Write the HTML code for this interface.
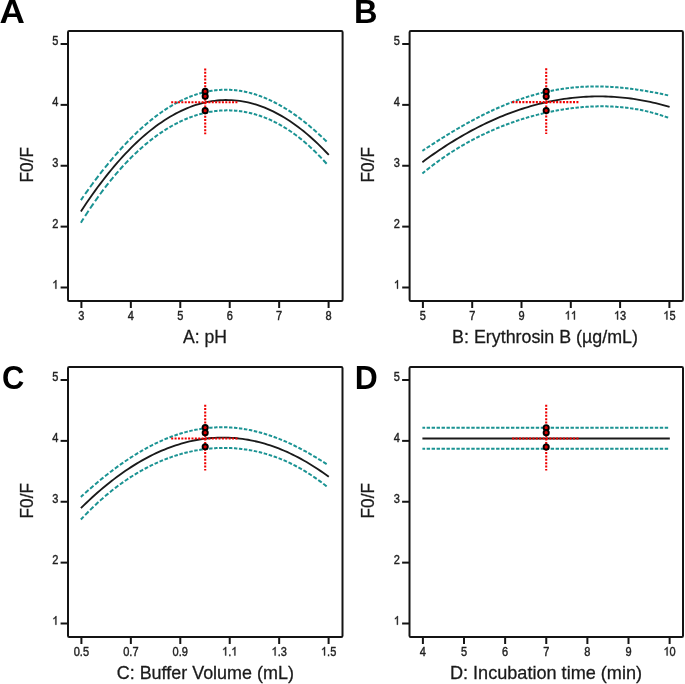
<!DOCTYPE html>
<html><head><meta charset="utf-8"><style>
html,body{margin:0;padding:0;background:#fff;}
svg{display:block;will-change:transform;}
text{font-family:"Liberation Sans",sans-serif;}
.tk{font-size:12px;fill:#222;stroke:#222;stroke-width:0.4px;}
.tk1{fill:#222;stroke:#222;stroke-width:68px;}
.ti{font-size:17.6px;fill:#1a1a1a;stroke:#1a1a1a;stroke-width:0.28px;}
.lt{font-size:32.5px;font-weight:bold;fill:#000;}
</style></head><body>
<svg width="685" height="684" viewBox="0 0 685 684">
<path d="M80.90,200.13 L81.80,198.82 L82.70,197.53 L83.60,196.23M85.16,194.01 L86.29,192.41 L87.43,190.82 L88.56,189.24M90.12,187.08 L91.25,185.53 L92.39,183.99 L93.52,182.46M95.08,180.37 L96.21,178.86 L97.35,177.37 L98.48,175.88M100.04,173.86 L101.17,172.40 L102.31,170.96 L103.44,169.52M105.00,167.57 L106.13,166.16 L107.27,164.76 L108.40,163.38M109.96,161.49 L111.09,160.13 L112.23,158.79 L113.36,157.45M114.92,155.63 L116.05,154.33 L117.19,153.03 L118.32,151.75M119.88,150.00 L121.01,148.75 L122.15,147.51 L123.28,146.28M124.84,144.60 L125.97,143.40 L127.11,142.21 L128.24,141.04M129.80,139.44 L130.93,138.29 L132.07,137.16 L133.20,136.03M134.76,134.51 L135.89,133.42 L137.03,132.34 L138.16,131.27M139.72,129.82 L140.85,128.79 L141.99,127.76 L143.12,126.75M144.68,125.38 L145.81,124.40 L146.95,123.44 L148.08,122.48M149.64,121.19 L150.77,120.27 L151.91,119.36 L153.04,118.46M154.60,117.25 L155.73,116.39 L156.87,115.54 L158.00,114.70M159.56,113.57 L160.69,112.76 L161.83,111.97 L162.96,111.19M164.52,110.15 L165.65,109.40 L166.79,108.67 L167.92,107.95M169.48,106.98 L170.61,106.30 L171.75,105.62 L172.88,104.97M174.44,104.08 L175.57,103.46 L176.71,102.84 L177.84,102.25M179.40,101.45 L180.53,100.88 L181.67,100.33 L182.80,99.79M184.36,99.07 L185.49,98.57 L186.63,98.08 L187.76,97.60M189.32,96.97 L190.45,96.53 L191.59,96.10 L192.72,95.68M194.28,95.13 L195.41,94.75 L196.55,94.38 L197.68,94.03M199.24,93.57 L200.37,93.25 L201.51,92.94 L202.64,92.65M204.20,92.27 L205.33,92.01 L206.47,91.76 L207.60,91.53M209.16,91.24 L210.29,91.04 L211.43,90.85 L212.56,90.68M214.12,90.47 L215.25,90.34 L216.39,90.21 L217.52,90.11M219.08,89.98 L220.21,89.90 L221.35,89.84 L222.48,89.80M224.04,89.75 L225.17,89.74 L226.31,89.74 L227.44,89.75M229.00,89.80 L230.13,89.84 L231.27,89.90 L232.40,89.98M233.96,90.10 L235.09,90.21 L236.23,90.33 L237.36,90.47M238.92,90.67 L240.05,90.84 L241.19,91.02 L242.32,91.22M243.88,91.51 L245.01,91.74 L246.15,91.98 L247.28,92.23M248.84,92.61 L249.97,92.89 L251.11,93.19 L252.24,93.51M253.80,93.96 L254.93,94.31 L256.07,94.67 L257.20,95.04M258.76,95.57 L259.89,95.98 L261.03,96.40 L262.16,96.83M263.72,97.44 L264.85,97.90 L265.99,98.38 L267.12,98.87M268.68,99.56 L269.81,100.08 L270.95,100.61 L272.08,101.15M273.64,101.92 L274.77,102.50 L275.91,103.08 L277.04,103.68M278.60,104.53 L279.73,105.16 L280.87,105.80 L282.00,106.46M283.56,107.38 L284.69,108.06 L285.83,108.76 L286.96,109.46M288.52,110.46 L289.65,111.20 L290.79,111.94 L291.92,112.70M293.48,113.77 L294.61,114.56 L295.75,115.36 L296.88,116.17M298.44,117.31 L299.57,118.15 L300.71,119.00 L301.84,119.87M303.40,121.07 L304.53,121.96 L305.67,122.86 L306.80,123.78M308.36,125.05 L309.49,125.99 L310.63,126.94 L311.76,127.90M313.32,129.25 L314.45,130.24 L315.59,131.23 L316.72,132.25M318.28,133.65 L319.41,134.69 L320.55,135.74 L321.68,136.80M323.24,138.27 L324.37,139.35 L325.51,140.45 L326.64,141.56" stroke="#1b9393" stroke-width="2" fill="none"/>
<path d="M80.90,222.71 L81.80,221.27 L82.70,219.84 L83.60,218.42M85.16,215.98 L86.29,214.23 L87.43,212.50 L88.56,210.78M90.12,208.44 L91.25,206.76 L92.39,205.10 L93.52,203.45M95.08,201.21 L96.21,199.60 L97.35,198.00 L98.48,196.42M100.04,194.28 L101.17,192.74 L102.31,191.21 L103.44,189.70M105.00,187.65 L106.13,186.18 L107.27,184.72 L108.40,183.28M109.96,181.32 L111.09,179.92 L112.23,178.53 L113.36,177.16M114.92,175.29 L116.05,173.96 L117.19,172.63 L118.32,171.33M119.88,169.55 L121.01,168.28 L122.15,167.03 L123.28,165.79M124.84,164.10 L125.97,162.90 L127.11,161.70 L128.24,160.53M129.80,158.93 L130.93,157.79 L132.07,156.66 L133.20,155.55M134.76,154.04 L135.89,152.96 L137.03,151.90 L138.16,150.85M139.72,149.43 L140.85,148.41 L141.99,147.41 L143.12,146.42M144.68,145.08 L145.81,144.13 L146.95,143.18 L148.08,142.26M149.64,141.00 L150.77,140.11 L151.91,139.23 L153.04,138.36M154.60,137.19 L155.73,136.35 L156.87,135.53 L158.00,134.73M159.56,133.64 L160.69,132.86 L161.83,132.10 L162.96,131.35M164.52,130.34 L165.65,129.62 L166.79,128.92 L167.92,128.23M169.48,127.30 L170.61,126.64 L171.75,126.00 L172.88,125.37M174.44,124.52 L175.57,123.92 L176.71,123.33 L177.84,122.75M179.40,121.98 L180.53,121.44 L181.67,120.91 L182.80,120.39M184.36,119.70 L185.49,119.22 L186.63,118.74 L187.76,118.28M189.32,117.67 L190.45,117.24 L191.59,116.83 L192.72,116.42M194.28,115.89 L195.41,115.52 L196.55,115.16 L197.68,114.81M199.24,114.36 L200.37,114.04 L201.51,113.74 L202.64,113.45M204.20,113.07 L205.33,112.81 L206.47,112.57 L207.60,112.33M209.16,112.03 L210.29,111.83 L211.43,111.64 L212.56,111.46M214.12,111.24 L215.25,111.10 L216.39,110.96 L217.52,110.84M219.08,110.70 L220.21,110.61 L221.35,110.54 L222.48,110.47M224.04,110.41 L225.17,110.38 L226.31,110.36 L227.44,110.35M229.00,110.37 L230.13,110.39 L231.27,110.43 L232.40,110.48M233.96,110.57 L235.09,110.66 L236.23,110.75 L237.36,110.86M238.92,111.03 L240.05,111.17 L241.19,111.33 L242.32,111.49M243.88,111.75 L245.01,111.94 L246.15,112.16 L247.28,112.38M248.84,112.71 L249.97,112.97 L251.11,113.24 L252.24,113.53M253.80,113.94 L254.93,114.26 L256.07,114.59 L257.20,114.93M258.76,115.43 L259.89,115.80 L261.03,116.19 L262.16,116.60M263.72,117.18 L264.85,117.61 L265.99,118.06 L267.12,118.53M268.68,119.19 L269.81,119.69 L270.95,120.20 L272.08,120.73M273.64,121.47 L274.77,122.04 L275.91,122.61 L277.04,123.20M278.60,124.03 L279.73,124.66 L280.87,125.29 L282.00,125.95M283.56,126.87 L284.69,127.55 L285.83,128.26 L286.96,128.97M288.52,129.98 L289.65,130.74 L290.79,131.50 L291.92,132.29M293.48,133.39 L294.61,134.21 L295.75,135.04 L296.88,135.89M298.44,137.08 L299.57,137.96 L300.71,138.87 L301.84,139.78M303.40,141.07 L304.53,142.02 L305.67,142.99 L306.80,143.97M308.36,145.35 L309.49,146.37 L310.63,147.41 L311.76,148.46M313.32,149.94 L314.45,151.03 L315.59,152.14 L316.72,153.26M318.28,154.83 L319.41,155.99 L320.55,157.17 L321.68,158.36M323.24,160.03 L324.37,161.26 L325.51,162.51 L326.64,163.77" stroke="#1b9393" stroke-width="2" fill="none"/>
<path d="M80.90,211.42 L83.69,207.20 L86.47,203.06 L89.26,199.00 L92.04,195.03 L94.83,191.14 L97.61,187.32 L100.40,183.59 L103.18,179.94 L105.97,176.38 L108.75,172.89 L111.54,169.49 L114.32,166.16 L117.11,162.92 L119.90,159.76 L122.68,156.68 L125.47,153.69 L128.25,150.77 L131.04,147.94 L133.82,145.18 L136.61,142.51 L139.39,139.92 L142.18,137.41 L144.96,134.99 L147.75,132.64 L150.53,130.38 L153.32,128.20 L156.11,126.10 L158.89,124.08 L161.68,122.14 L164.46,120.28 L167.25,118.51 L170.03,116.81 L172.82,115.20 L175.60,113.67 L178.39,112.22 L181.17,110.85 L183.96,109.57 L186.74,108.36 L189.53,107.24 L192.32,106.20 L195.10,105.24 L197.89,104.36 L200.67,103.56 L203.46,102.85 L206.24,102.21 L209.03,101.66 L211.81,101.19 L214.60,100.80 L217.38,100.49 L220.17,100.26 L222.96,100.12 L225.74,100.05 L228.53,100.07 L231.31,100.17 L234.10,100.35 L236.88,100.61 L239.67,100.95 L242.45,101.38 L245.24,101.88 L248.02,102.47 L250.81,103.14 L253.59,103.89 L256.38,104.72 L259.17,105.64 L261.95,106.63 L264.74,107.71 L267.52,108.87 L270.31,110.11 L273.09,111.43 L275.88,112.83 L278.66,114.32 L281.45,115.88 L284.23,117.53 L287.02,119.26 L289.80,121.07 L292.59,122.96 L295.38,124.93 L298.16,126.98 L300.95,129.12 L303.73,131.34 L306.52,133.64 L309.30,136.02 L312.09,138.48 L314.87,141.02 L317.66,143.65 L320.44,146.35 L323.23,149.14 L326.01,152.01 L328.80,154.96" stroke="#1a1a1a" stroke-width="1.85" fill="none"/>
<path d="M171.2,102.2 H238.0 M205.2,68.4 V134.2" stroke="#f00000" stroke-width="2.1" stroke-dasharray="2 1.38" fill="none"/>
<circle cx="205.2" cy="91.4" r="2.6" fill="#d80000" stroke="#000" stroke-width="1.9"/>
<circle cx="205.2" cy="96.3" r="2.6" fill="#d80000" stroke="#000" stroke-width="1.9"/>
<circle cx="205.2" cy="110.65" r="2.6" fill="#d80000" stroke="#000" stroke-width="1.9"/>
<rect x="68" y="31" width="274.6" height="270.0" rx="1.2" fill="none" stroke="#141414" stroke-width="2"/>
<line x1="60.6" y1="44.0" x2="68" y2="44.0" stroke="#141414" stroke-width="2"/>
<g transform="translate(58.40,45.20) scale(0.92,1)"><text x="-6.67" y="0" class="tk">5</text></g>
<line x1="60.6" y1="104.875" x2="68" y2="104.875" stroke="#141414" stroke-width="2"/>
<g transform="translate(58.40,106.08) scale(0.92,1)"><text x="-6.67" y="0" class="tk">4</text></g>
<line x1="60.6" y1="165.75" x2="68" y2="165.75" stroke="#141414" stroke-width="2"/>
<g transform="translate(58.40,166.95) scale(0.92,1)"><text x="-6.67" y="0" class="tk">3</text></g>
<line x1="60.6" y1="226.625" x2="68" y2="226.625" stroke="#141414" stroke-width="2"/>
<g transform="translate(58.40,227.82) scale(0.92,1)"><text x="-6.67" y="0" class="tk">2</text></g>
<line x1="60.6" y1="287.5" x2="68" y2="287.5" stroke="#141414" stroke-width="2"/>
<g transform="translate(58.40,288.70) scale(0.92,1)"><path transform="translate(-6.67,0) scale(0.005859,-0.005859)" d="M763 0H583V1147Q518 1085 412.5 1023T223 930V1104Q374 1175 487 1276T647 1472H763V0Z" class="tk1"/></g>
<line x1="81.4" y1="301.0" x2="81.4" y2="308.0" stroke="#141414" stroke-width="2"/>
<g transform="translate(81.40,319.50) scale(0.92,1)"><text x="-3.34" y="0" class="tk">3</text></g>
<line x1="130.84" y1="301.0" x2="130.84" y2="308.0" stroke="#141414" stroke-width="2"/>
<g transform="translate(130.84,319.50) scale(0.92,1)"><text x="-3.34" y="0" class="tk">4</text></g>
<line x1="180.28" y1="301.0" x2="180.28" y2="308.0" stroke="#141414" stroke-width="2"/>
<g transform="translate(180.28,319.50) scale(0.92,1)"><text x="-3.34" y="0" class="tk">5</text></g>
<line x1="229.72" y1="301.0" x2="229.72" y2="308.0" stroke="#141414" stroke-width="2"/>
<g transform="translate(229.72,319.50) scale(0.92,1)"><text x="-3.34" y="0" class="tk">6</text></g>
<line x1="279.15999999999997" y1="301.0" x2="279.15999999999997" y2="308.0" stroke="#141414" stroke-width="2"/>
<g transform="translate(279.16,319.50) scale(0.92,1)"><text x="-3.34" y="0" class="tk">7</text></g>
<line x1="328.6" y1="301.0" x2="328.6" y2="308.0" stroke="#141414" stroke-width="2"/>
<g transform="translate(328.60,319.50) scale(0.92,1)"><text x="-3.34" y="0" class="tk">8</text></g>
<text x="205" y="343.0" text-anchor="middle" class="ti" style="font-size:17.6px">A: pH</text>
<text transform="translate(32.7,164.7) rotate(-90) scale(0.94,1)" text-anchor="middle" class="ti" style="font-size:18.3px">F0/F</text>
<text transform="translate(-0.6,22.8) scale(1.08,1)" class="lt">A</text>
<path d="M422.40,150.86 L423.30,150.26 L424.20,149.66 L425.10,149.06M426.66,148.03 L427.79,147.28 L428.93,146.54 L430.06,145.80M431.62,144.78 L432.75,144.05 L433.89,143.32 L435.02,142.59M436.58,141.59 L437.71,140.87 L438.85,140.15 L439.98,139.44M441.54,138.46 L442.67,137.75 L443.81,137.04 L444.94,136.34M446.50,135.38 L447.63,134.68 L448.77,133.99 L449.90,133.31M451.46,132.36 L452.59,131.68 L453.73,131.01 L454.86,130.34M456.42,129.42 L457.55,128.75 L458.69,128.09 L459.82,127.44M461.38,126.54 L462.51,125.89 L463.65,125.25 L464.78,124.61M466.34,123.74 L467.47,123.11 L468.61,122.48 L469.74,121.86M471.30,121.01 L472.43,120.40 L473.57,119.80 L474.70,119.20M476.26,118.37 L477.39,117.78 L478.53,117.20 L479.66,116.62M481.22,115.82 L482.35,115.25 L483.49,114.69 L484.62,114.13M486.18,113.36 L487.31,112.81 L488.45,112.27 L489.58,111.73M491.14,111.00 L492.27,110.47 L493.41,109.95 L494.54,109.43M496.10,108.73 L497.23,108.23 L498.37,107.73 L499.50,107.24M501.06,106.57 L502.19,106.09 L503.33,105.61 L504.46,105.14M506.02,104.50 L507.15,104.05 L508.29,103.60 L509.42,103.15M510.98,102.55 L512.11,102.12 L513.25,101.69 L514.38,101.27M515.94,100.70 L517.07,100.30 L518.21,99.90 L519.34,99.50M520.90,98.97 L522.03,98.58 L523.17,98.21 L524.30,97.84M525.86,97.34 L526.99,96.98 L528.13,96.64 L529.26,96.29M530.82,95.83 L531.95,95.50 L533.09,95.17 L534.22,94.86M535.78,94.43 L536.91,94.12 L538.05,93.83 L539.18,93.53M540.74,93.14 L541.87,92.86 L543.01,92.59 L544.14,92.33M545.70,91.97 L546.83,91.72 L547.97,91.47 L549.10,91.23M550.66,90.91 L551.79,90.69 L552.93,90.47 L554.06,90.25M555.62,89.97 L556.75,89.77 L557.89,89.58 L559.02,89.39M560.58,89.14 L561.71,88.97 L562.85,88.80 L563.98,88.64M565.54,88.42 L566.67,88.28 L567.81,88.13 L568.94,88.00M570.50,87.82 L571.63,87.70 L572.77,87.58 L573.90,87.47M575.46,87.33 L576.59,87.23 L577.73,87.14 L578.86,87.05M580.42,86.95 L581.55,86.87 L582.69,86.81 L583.82,86.75M585.38,86.67 L586.51,86.63 L587.65,86.58 L588.78,86.55M590.34,86.51 L591.47,86.48 L592.61,86.47 L593.74,86.45M595.30,86.44 L596.43,86.44 L597.57,86.45 L598.70,86.46M600.26,86.48 L601.39,86.51 L602.53,86.54 L603.66,86.57M605.22,86.62 L606.35,86.67 L607.49,86.72 L608.62,86.77M610.18,86.86 L611.31,86.92 L612.45,87.00 L613.58,87.07M615.14,87.18 L616.27,87.27 L617.41,87.36 L618.54,87.46M620.10,87.60 L621.23,87.71 L622.37,87.82 L623.50,87.93M625.06,88.10 L626.19,88.22 L627.33,88.35 L628.46,88.49M630.02,88.68 L631.15,88.82 L632.29,88.97 L633.42,89.12M634.98,89.33 L636.11,89.49 L637.25,89.66 L638.38,89.82M639.94,90.06 L641.07,90.24 L642.21,90.42 L643.34,90.60M644.90,90.85 L646.03,91.04 L647.17,91.24 L648.30,91.43M649.86,91.71 L650.99,91.92 L652.13,92.12 L653.26,92.33M654.82,92.63 L655.95,92.85 L657.09,93.07 L658.22,93.29M659.78,93.60 L660.91,93.83 L662.05,94.06 L663.18,94.30M664.74,94.63 L665.87,94.87 L667.01,95.12 L668.14,95.36" stroke="#1b9393" stroke-width="2" fill="none"/>
<path d="M422.40,173.44 L423.30,172.70 L424.20,171.97 L425.10,171.24M426.66,170.00 L427.79,169.10 L428.93,168.21 L430.06,167.33M431.62,166.14 L432.75,165.27 L433.89,164.42 L435.02,163.58M436.58,162.43 L437.71,161.60 L438.85,160.78 L439.98,159.97M441.54,158.87 L442.67,158.08 L443.81,157.29 L444.94,156.52M446.50,155.46 L447.63,154.70 L448.77,153.95 L449.90,153.21M451.46,152.20 L452.59,151.47 L453.73,150.75 L454.86,150.04M456.42,149.07 L457.55,148.38 L458.69,147.69 L459.82,147.01M461.38,146.09 L462.51,145.42 L463.65,144.77 L464.78,144.12M466.34,143.23 L467.47,142.60 L468.61,141.97 L469.74,141.35M471.30,140.51 L472.43,139.90 L473.57,139.31 L474.70,138.71M476.26,137.91 L477.39,137.33 L478.53,136.76 L479.66,136.20M481.22,135.43 L482.35,134.88 L483.49,134.34 L484.62,133.80M486.18,133.07 L487.31,132.54 L488.45,132.02 L489.58,131.51M491.14,130.81 L492.27,130.32 L493.41,129.82 L494.54,129.34M496.10,128.67 L497.23,128.20 L498.37,127.73 L499.50,127.27M501.06,126.64 L502.19,126.19 L503.33,125.74 L504.46,125.30M506.02,124.71 L507.15,124.28 L508.29,123.86 L509.42,123.44M510.98,122.88 L512.11,122.47 L513.25,122.07 L514.38,121.68M515.94,121.14 L517.07,120.76 L518.21,120.39 L519.34,120.01M520.90,119.51 L522.03,119.15 L523.17,118.80 L524.30,118.45M525.86,117.97 L526.99,117.64 L528.13,117.30 L529.26,116.98M530.82,116.53 L531.95,116.22 L533.09,115.91 L534.22,115.60M535.78,115.19 L536.91,114.89 L538.05,114.60 L539.18,114.32M540.74,113.93 L541.87,113.66 L543.01,113.39 L544.14,113.13M545.70,112.77 L546.83,112.52 L547.97,112.27 L549.10,112.03M550.66,111.71 L551.79,111.48 L552.93,111.25 L554.06,111.03M555.62,110.73 L556.75,110.53 L557.89,110.32 L559.02,110.12M560.58,109.86 L561.71,109.67 L562.85,109.49 L563.98,109.31M565.54,109.07 L566.67,108.91 L567.81,108.74 L568.94,108.59M570.50,108.38 L571.63,108.24 L572.77,108.10 L573.90,107.97M575.46,107.79 L576.59,107.67 L577.73,107.55 L578.86,107.44M580.42,107.29 L581.55,107.19 L582.69,107.10 L583.82,107.01M585.38,106.90 L586.51,106.82 L587.65,106.75 L588.78,106.68M590.34,106.60 L591.47,106.55 L592.61,106.50 L593.74,106.46M595.30,106.41 L596.43,106.38 L597.57,106.36 L598.70,106.34M600.26,106.32 L601.39,106.32 L602.53,106.32 L603.66,106.33M605.22,106.35 L606.35,106.37 L607.49,106.39 L608.62,106.43M610.18,106.48 L611.31,106.53 L612.45,106.58 L613.58,106.64M615.14,106.73 L616.27,106.80 L617.41,106.88 L618.54,106.97M620.10,107.10 L621.23,107.20 L622.37,107.31 L623.50,107.42M625.06,107.59 L626.19,107.72 L627.33,107.86 L628.46,108.00M630.02,108.21 L631.15,108.37 L632.29,108.54 L633.42,108.71M634.98,108.97 L636.11,109.16 L637.25,109.35 L638.38,109.56M639.94,109.85 L641.07,110.08 L642.21,110.31 L643.34,110.54M644.90,110.88 L646.03,111.14 L647.17,111.40 L648.30,111.67M649.86,112.06 L650.99,112.35 L652.13,112.64 L653.26,112.95M654.82,113.38 L655.95,113.70 L657.09,114.03 L658.22,114.37M659.78,114.85 L660.91,115.21 L662.05,115.58 L663.18,115.95M664.74,116.48 L665.87,116.87 L667.01,117.27 L668.14,117.68" stroke="#1b9393" stroke-width="2" fill="none"/>
<path d="M422.40,162.15 L425.18,160.10 L427.96,158.08 L430.73,156.09 L433.51,154.13 L436.29,152.21 L439.07,150.32 L441.84,148.46 L444.62,146.64 L447.40,144.84 L450.18,143.08 L452.95,141.36 L455.73,139.66 L458.51,138.00 L461.29,136.37 L464.06,134.77 L466.84,133.21 L469.62,131.67 L472.40,130.17 L475.17,128.71 L477.95,127.27 L480.73,125.87 L483.51,124.50 L486.28,123.17 L489.06,121.86 L491.84,120.59 L494.62,119.35 L497.39,118.14 L500.17,116.97 L502.95,115.83 L505.73,114.72 L508.50,113.64 L511.28,112.60 L514.06,111.59 L516.84,110.61 L519.61,109.67 L522.39,108.75 L525.17,107.87 L527.95,107.02 L530.72,106.21 L533.50,105.42 L536.28,104.67 L539.06,103.96 L541.83,103.27 L544.61,102.62 L547.39,102.00 L550.17,101.41 L552.94,100.86 L555.72,100.33 L558.50,99.84 L561.28,99.39 L564.05,98.96 L566.83,98.57 L569.61,98.21 L572.39,97.88 L575.16,97.59 L577.94,97.33 L580.72,97.10 L583.50,96.90 L586.27,96.74 L589.05,96.60 L591.83,96.51 L594.61,96.44 L597.38,96.40 L600.16,96.40 L602.94,96.43 L605.72,96.50 L608.49,96.59 L611.27,96.72 L614.05,96.89 L616.83,97.08 L619.60,97.31 L622.38,97.57 L625.16,97.86 L627.94,98.18 L630.71,98.54 L633.49,98.93 L636.27,99.35 L639.05,99.80 L641.82,100.29 L644.60,100.81 L647.38,101.36 L650.16,101.95 L652.93,102.57 L655.71,103.22 L658.49,103.90 L661.27,104.61 L664.04,105.36 L666.82,106.14 L669.60,106.95" stroke="#1a1a1a" stroke-width="1.85" fill="none"/>
<path d="M512.2,102.1 H579.0 M546.2,68.3 V134.1" stroke="#f00000" stroke-width="2.1" stroke-dasharray="2 1.38" fill="none"/>
<circle cx="546.2" cy="91.4" r="2.6" fill="#d80000" stroke="#000" stroke-width="1.9"/>
<circle cx="546.2" cy="96.5" r="2.6" fill="#d80000" stroke="#000" stroke-width="1.9"/>
<circle cx="546.2" cy="110.6" r="2.6" fill="#d80000" stroke="#000" stroke-width="1.9"/>
<rect x="409.6" y="31" width="273.29999999999995" height="270.0" rx="1.2" fill="none" stroke="#141414" stroke-width="2"/>
<line x1="402.20000000000005" y1="44.0" x2="409.6" y2="44.0" stroke="#141414" stroke-width="2"/>
<g transform="translate(400.00,45.20) scale(0.92,1)"><text x="-6.67" y="0" class="tk">5</text></g>
<line x1="402.20000000000005" y1="104.875" x2="409.6" y2="104.875" stroke="#141414" stroke-width="2"/>
<g transform="translate(400.00,106.08) scale(0.92,1)"><text x="-6.67" y="0" class="tk">4</text></g>
<line x1="402.20000000000005" y1="165.75" x2="409.6" y2="165.75" stroke="#141414" stroke-width="2"/>
<g transform="translate(400.00,166.95) scale(0.92,1)"><text x="-6.67" y="0" class="tk">3</text></g>
<line x1="402.20000000000005" y1="226.625" x2="409.6" y2="226.625" stroke="#141414" stroke-width="2"/>
<g transform="translate(400.00,227.82) scale(0.92,1)"><text x="-6.67" y="0" class="tk">2</text></g>
<line x1="402.20000000000005" y1="287.5" x2="409.6" y2="287.5" stroke="#141414" stroke-width="2"/>
<g transform="translate(400.00,288.70) scale(0.92,1)"><path transform="translate(-6.67,0) scale(0.005859,-0.005859)" d="M763 0H583V1147Q518 1085 412.5 1023T223 930V1104Q374 1175 487 1276T647 1472H763V0Z" class="tk1"/></g>
<line x1="422.9" y1="301.0" x2="422.9" y2="308.0" stroke="#141414" stroke-width="2"/>
<g transform="translate(422.90,319.50) scale(0.92,1)"><text x="-3.34" y="0" class="tk">5</text></g>
<line x1="472.2" y1="301.0" x2="472.2" y2="308.0" stroke="#141414" stroke-width="2"/>
<g transform="translate(472.20,319.50) scale(0.92,1)"><text x="-3.34" y="0" class="tk">7</text></g>
<line x1="521.5" y1="301.0" x2="521.5" y2="308.0" stroke="#141414" stroke-width="2"/>
<g transform="translate(521.50,319.50) scale(0.92,1)"><text x="-3.34" y="0" class="tk">9</text></g>
<line x1="570.8" y1="301.0" x2="570.8" y2="308.0" stroke="#141414" stroke-width="2"/>
<g transform="translate(570.80,319.50) scale(0.92,1)"><path transform="translate(-6.67,0) scale(0.005859,-0.005859)" d="M763 0H583V1147Q518 1085 412.5 1023T223 930V1104Q374 1175 487 1276T647 1472H763V0Z" class="tk1"/><path transform="translate(0.00,0) scale(0.005859,-0.005859)" d="M763 0H583V1147Q518 1085 412.5 1023T223 930V1104Q374 1175 487 1276T647 1472H763V0Z" class="tk1"/></g>
<line x1="620.0999999999999" y1="301.0" x2="620.0999999999999" y2="308.0" stroke="#141414" stroke-width="2"/>
<g transform="translate(620.10,319.50) scale(0.92,1)"><path transform="translate(-6.67,0) scale(0.005859,-0.005859)" d="M763 0H583V1147Q518 1085 412.5 1023T223 930V1104Q374 1175 487 1276T647 1472H763V0Z" class="tk1"/><text x="0.00" y="0" class="tk">3</text></g>
<line x1="669.4" y1="301.0" x2="669.4" y2="308.0" stroke="#141414" stroke-width="2"/>
<g transform="translate(669.40,319.50) scale(0.92,1)"><path transform="translate(-6.67,0) scale(0.005859,-0.005859)" d="M763 0H583V1147Q518 1085 412.5 1023T223 930V1104Q374 1175 487 1276T647 1472H763V0Z" class="tk1"/><text x="0.00" y="0" class="tk">5</text></g>
<text x="545" y="343.0" text-anchor="middle" class="ti" style="font-size:17.85px">B: Erythrosin B (µg/mL)</text>
<text transform="translate(374.3,164.7) rotate(-90) scale(0.94,1)" text-anchor="middle" class="ti" style="font-size:18.3px">F0/F</text>
<text transform="translate(353.9,22.8) scale(1.0,1)" class="lt">B</text>
<path d="M80.90,496.90 L81.80,496.08 L82.70,495.26 L83.60,494.44M85.16,493.03 L86.29,492.02 L87.43,491.01 L88.56,490.01M90.12,488.64 L91.25,487.66 L92.39,486.68 L93.52,485.70M95.08,484.37 L96.21,483.42 L97.35,482.46 L98.48,481.52M100.04,480.23 L101.17,479.30 L102.31,478.38 L103.44,477.46M105.00,476.21 L106.13,475.31 L107.27,474.42 L108.40,473.54M109.96,472.33 L111.09,471.46 L112.23,470.60 L113.36,469.74M114.92,468.58 L116.05,467.74 L117.19,466.91 L118.32,466.09M119.88,464.97 L121.01,464.16 L122.15,463.37 L123.28,462.58M124.84,461.50 L125.97,460.73 L127.11,459.97 L128.24,459.21M129.80,458.18 L130.93,457.45 L132.07,456.72 L133.20,455.99M134.76,455.02 L135.89,454.31 L137.03,453.62 L138.16,452.93M139.72,452.00 L140.85,451.34 L141.99,450.68 L143.12,450.03M144.68,449.15 L145.81,448.52 L146.95,447.90 L148.08,447.29M149.64,446.46 L150.77,445.87 L151.91,445.29 L153.04,444.72M154.60,443.94 L155.73,443.39 L156.87,442.85 L158.00,442.31M159.56,441.59 L160.69,441.08 L161.83,440.57 L162.96,440.08M164.52,439.41 L165.65,438.94 L166.79,438.48 L167.92,438.02M169.48,437.41 L170.61,436.98 L171.75,436.55 L172.88,436.14M174.44,435.58 L175.57,435.19 L176.71,434.80 L177.84,434.43M179.40,433.93 L180.53,433.58 L181.67,433.24 L182.80,432.90M184.36,432.46 L185.49,432.15 L186.63,431.85 L187.76,431.56M189.32,431.17 L190.45,430.90 L191.59,430.64 L192.72,430.39M194.28,430.06 L195.41,429.84 L196.55,429.62 L197.68,429.41M199.24,429.14 L200.37,428.95 L201.51,428.78 L202.64,428.61M204.20,428.40 L205.33,428.25 L206.47,428.12 L207.60,427.99M209.16,427.84 L210.29,427.73 L211.43,427.64 L212.56,427.56M214.12,427.46 L215.25,427.40 L216.39,427.35 L217.52,427.30M219.08,427.26 L220.21,427.24 L221.35,427.23 L222.48,427.23M224.04,427.25 L225.17,427.27 L226.31,427.30 L227.44,427.34M229.00,427.42 L230.13,427.48 L231.27,427.55 L232.40,427.64M233.96,427.76 L235.09,427.87 L236.23,427.98 L237.36,428.11M238.92,428.29 L240.05,428.44 L241.19,428.59 L242.32,428.75M243.88,428.99 L245.01,429.18 L246.15,429.37 L247.28,429.58M248.84,429.87 L249.97,430.10 L251.11,430.33 L252.24,430.58M253.80,430.92 L254.93,431.19 L256.07,431.46 L257.20,431.74M258.76,432.15 L259.89,432.45 L261.03,432.76 L262.16,433.08M263.72,433.54 L264.85,433.88 L265.99,434.23 L267.12,434.59M268.68,435.09 L269.81,435.47 L270.95,435.86 L272.08,436.25M273.64,436.81 L274.77,437.22 L275.91,437.64 L277.04,438.08M278.60,438.68 L279.73,439.13 L280.87,439.59 L282.00,440.05M283.56,440.71 L284.69,441.19 L285.83,441.68 L286.96,442.18M288.52,442.88 L289.65,443.40 L290.79,443.93 L291.92,444.46M293.48,445.20 L294.61,445.75 L295.75,446.31 L296.88,446.88M298.44,447.67 L299.57,448.25 L300.71,448.84 L301.84,449.43M303.40,450.26 L304.53,450.87 L305.67,451.49 L306.80,452.12M308.36,452.99 L309.49,453.63 L310.63,454.28 L311.76,454.94M313.32,455.85 L314.45,456.52 L315.59,457.20 L316.72,457.88M318.28,458.83 L319.41,459.53 L320.55,460.24 L321.68,460.95M323.24,461.94 L324.37,462.67 L325.51,463.40 L326.64,464.14" stroke="#1b9393" stroke-width="2" fill="none"/>
<path d="M80.90,519.48 L81.80,518.52 L82.70,517.57 L83.60,516.62M85.16,515.00 L86.29,513.84 L87.43,512.69 L88.56,511.55M90.12,510.00 L91.25,508.88 L92.39,507.78 L93.52,506.69M95.08,505.21 L96.21,504.15 L97.35,503.10 L98.48,502.06M100.04,500.65 L101.17,499.63 L102.31,498.63 L103.44,497.64M105.00,496.30 L106.13,495.34 L107.27,494.38 L108.40,493.44M109.96,492.16 L111.09,491.25 L112.23,490.34 L113.36,489.45M114.92,488.24 L116.05,487.37 L117.19,486.51 L118.32,485.67M119.88,484.52 L121.01,483.70 L122.15,482.89 L123.28,482.08M124.84,481.00 L125.97,480.22 L127.11,479.46 L128.24,478.70M129.80,477.68 L130.93,476.95 L132.07,476.22 L133.20,475.51M134.76,474.55 L135.89,473.86 L137.03,473.18 L138.16,472.51M139.72,471.61 L140.85,470.96 L141.99,470.33 L143.12,469.70M144.68,468.85 L145.81,468.25 L146.95,467.65 L148.08,467.07M149.64,466.28 L150.77,465.71 L151.91,465.16 L153.04,464.61M154.60,463.88 L155.73,463.36 L156.87,462.84 L158.00,462.34M159.56,461.66 L160.69,461.17 L161.83,460.70 L162.96,460.23M164.52,459.61 L165.65,459.16 L166.79,458.73 L167.92,458.30M169.48,457.73 L170.61,457.32 L171.75,456.92 L172.88,456.54M174.44,456.02 L175.57,455.65 L176.71,455.29 L177.84,454.94M179.40,454.47 L180.53,454.14 L181.67,453.82 L182.80,453.51M184.36,453.09 L185.49,452.80 L186.63,452.51 L187.76,452.24M189.32,451.87 L190.45,451.62 L191.59,451.37 L192.72,451.13M194.28,450.82 L195.41,450.60 L196.55,450.39 L197.68,450.19M199.24,449.93 L200.37,449.75 L201.51,449.57 L202.64,449.41M204.20,449.20 L205.33,449.06 L206.47,448.92 L207.60,448.79M209.16,448.63 L210.29,448.52 L211.43,448.43 L212.56,448.34M214.12,448.23 L215.25,448.16 L216.39,448.10 L217.52,448.04M219.08,447.98 L220.21,447.95 L221.35,447.93 L222.48,447.91M224.04,447.90 L225.17,447.91 L226.31,447.92 L227.44,447.94M229.00,447.99 L230.13,448.03 L231.27,448.08 L232.40,448.14M233.96,448.23 L235.09,448.31 L236.23,448.40 L237.36,448.50M238.92,448.65 L240.05,448.77 L241.19,448.89 L242.32,449.03M243.88,449.23 L245.01,449.39 L246.15,449.55 L247.28,449.73M248.84,449.98 L249.97,450.18 L251.11,450.38 L252.24,450.59M253.80,450.90 L254.93,451.14 L256.07,451.38 L257.20,451.63M258.76,452.00 L259.89,452.27 L261.03,452.56 L262.16,452.85M263.72,453.27 L264.85,453.59 L265.99,453.91 L267.12,454.25M268.68,454.72 L269.81,455.08 L270.95,455.45 L272.08,455.83M273.64,456.36 L274.77,456.76 L275.91,457.17 L277.04,457.59M278.60,458.18 L279.73,458.63 L280.87,459.08 L282.00,459.54M283.56,460.20 L284.69,460.69 L285.83,461.19 L286.96,461.69M288.52,462.41 L289.65,462.94 L290.79,463.49 L291.92,464.04M293.48,464.82 L294.61,465.40 L295.75,465.99 L296.88,466.59M298.44,467.43 L299.57,468.06 L300.71,468.70 L301.84,469.35M303.40,470.26 L304.53,470.93 L305.67,471.62 L306.80,472.32M308.36,473.29 L309.49,474.02 L310.63,474.75 L311.76,475.50M313.32,476.54 L314.45,477.32 L315.59,478.10 L316.72,478.90M318.28,480.01 L319.41,480.84 L320.55,481.67 L321.68,482.52M323.24,483.70 L324.37,484.58 L325.51,485.46 L326.64,486.36" stroke="#1b9393" stroke-width="2" fill="none"/>
<path d="M80.90,508.19 L83.69,505.45 L86.47,502.76 L89.26,500.13 L92.04,497.55 L94.83,495.02 L97.61,492.55 L100.40,490.13 L103.18,487.77 L105.97,485.46 L108.75,483.21 L111.54,481.01 L114.32,478.86 L117.11,476.77 L119.90,474.73 L122.68,472.75 L125.47,470.82 L128.25,468.95 L131.04,467.13 L133.82,465.36 L136.61,463.65 L139.39,462.00 L142.18,460.39 L144.96,458.85 L147.75,457.35 L150.53,455.91 L153.32,454.53 L156.11,453.20 L158.89,451.92 L161.68,450.70 L164.46,449.53 L167.25,448.42 L170.03,447.36 L172.82,446.36 L175.60,445.41 L178.39,444.51 L181.17,443.67 L183.96,442.88 L186.74,442.15 L189.53,441.47 L192.32,440.85 L195.10,440.28 L197.89,439.76 L200.67,439.30 L203.46,438.90 L206.24,438.54 L209.03,438.25 L211.81,438.00 L214.60,437.81 L217.38,437.68 L220.17,437.60 L222.96,437.57 L225.74,437.60 L228.53,437.68 L231.31,437.82 L234.10,438.01 L236.88,438.26 L239.67,438.56 L242.45,438.91 L245.24,439.32 L248.02,439.78 L250.81,440.30 L253.59,440.87 L256.38,441.49 L259.17,442.18 L261.95,442.91 L264.74,443.70 L267.52,444.54 L270.31,445.44 L273.09,446.39 L275.88,447.40 L278.66,448.46 L281.45,449.57 L284.23,450.74 L287.02,451.97 L289.80,453.24 L292.59,454.58 L295.38,455.96 L298.16,457.40 L300.95,458.90 L303.73,460.45 L306.52,462.05 L309.30,463.71 L312.09,465.42 L314.87,467.19 L317.66,469.01 L320.44,470.89 L323.23,472.82 L326.01,474.80 L328.80,476.84" stroke="#1a1a1a" stroke-width="1.85" fill="none"/>
<path d="M171.2,438.5 H238.0 M205.2,404.7 V470.5" stroke="#f00000" stroke-width="2.1" stroke-dasharray="2 1.38" fill="none"/>
<circle cx="205.2" cy="427.6" r="2.6" fill="#d80000" stroke="#000" stroke-width="1.9"/>
<circle cx="205.2" cy="432.7" r="2.6" fill="#d80000" stroke="#000" stroke-width="1.9"/>
<circle cx="205.2" cy="446.8" r="2.6" fill="#d80000" stroke="#000" stroke-width="1.9"/>
<rect x="68" y="367" width="274.5" height="270.0" rx="1.2" fill="none" stroke="#141414" stroke-width="2"/>
<line x1="60.6" y1="380.0" x2="68" y2="380.0" stroke="#141414" stroke-width="2"/>
<g transform="translate(58.40,381.20) scale(0.92,1)"><text x="-6.67" y="0" class="tk">5</text></g>
<line x1="60.6" y1="440.875" x2="68" y2="440.875" stroke="#141414" stroke-width="2"/>
<g transform="translate(58.40,442.07) scale(0.92,1)"><text x="-6.67" y="0" class="tk">4</text></g>
<line x1="60.6" y1="501.75" x2="68" y2="501.75" stroke="#141414" stroke-width="2"/>
<g transform="translate(58.40,502.95) scale(0.92,1)"><text x="-6.67" y="0" class="tk">3</text></g>
<line x1="60.6" y1="562.625" x2="68" y2="562.625" stroke="#141414" stroke-width="2"/>
<g transform="translate(58.40,563.83) scale(0.92,1)"><text x="-6.67" y="0" class="tk">2</text></g>
<line x1="60.6" y1="623.5" x2="68" y2="623.5" stroke="#141414" stroke-width="2"/>
<g transform="translate(58.40,624.70) scale(0.92,1)"><path transform="translate(-6.67,0) scale(0.005859,-0.005859)" d="M763 0H583V1147Q518 1085 412.5 1023T223 930V1104Q374 1175 487 1276T647 1472H763V0Z" class="tk1"/></g>
<line x1="81.4" y1="637.0" x2="81.4" y2="644.0" stroke="#141414" stroke-width="2"/>
<g transform="translate(81.40,655.50) scale(0.92,1)"><text x="-8.34" y="0" class="tk">0.5</text></g>
<line x1="130.84" y1="637.0" x2="130.84" y2="644.0" stroke="#141414" stroke-width="2"/>
<g transform="translate(130.84,655.50) scale(0.92,1)"><text x="-8.34" y="0" class="tk">0.7</text></g>
<line x1="180.28" y1="637.0" x2="180.28" y2="644.0" stroke="#141414" stroke-width="2"/>
<g transform="translate(180.28,655.50) scale(0.92,1)"><text x="-8.34" y="0" class="tk">0.9</text></g>
<line x1="229.72" y1="637.0" x2="229.72" y2="644.0" stroke="#141414" stroke-width="2"/>
<g transform="translate(229.72,655.50) scale(0.92,1)"><path transform="translate(-8.34,0) scale(0.005859,-0.005859)" d="M763 0H583V1147Q518 1085 412.5 1023T223 930V1104Q374 1175 487 1276T647 1472H763V0Z" class="tk1"/><text x="-1.67" y="0" class="tk">.</text><path transform="translate(1.67,0) scale(0.005859,-0.005859)" d="M763 0H583V1147Q518 1085 412.5 1023T223 930V1104Q374 1175 487 1276T647 1472H763V0Z" class="tk1"/></g>
<line x1="279.15999999999997" y1="637.0" x2="279.15999999999997" y2="644.0" stroke="#141414" stroke-width="2"/>
<g transform="translate(279.16,655.50) scale(0.92,1)"><path transform="translate(-8.34,0) scale(0.005859,-0.005859)" d="M763 0H583V1147Q518 1085 412.5 1023T223 930V1104Q374 1175 487 1276T647 1472H763V0Z" class="tk1"/><text x="-1.67" y="0" class="tk">.3</text></g>
<line x1="328.6" y1="637.0" x2="328.6" y2="644.0" stroke="#141414" stroke-width="2"/>
<g transform="translate(328.60,655.50) scale(0.92,1)"><path transform="translate(-8.34,0) scale(0.005859,-0.005859)" d="M763 0H583V1147Q518 1085 412.5 1023T223 930V1104Q374 1175 487 1276T647 1472H763V0Z" class="tk1"/><text x="-1.67" y="0" class="tk">.5</text></g>
<text x="205.3" y="679.0" text-anchor="middle" class="ti" style="font-size:17.95px">C: Buffer Volume (mL)</text>
<text transform="translate(32.7,500.7) rotate(-90) scale(0.94,1)" text-anchor="middle" class="ti" style="font-size:18.3px">F0/F</text>
<text transform="translate(2.1,388.9) scale(0.95,1.04)" class="lt">C</text>
<path d="M422.40,427.70 L423.30,427.70 L424.20,427.70 L425.10,427.70M426.66,427.70 L427.79,427.70 L428.93,427.70 L430.06,427.70M431.62,427.70 L432.75,427.70 L433.89,427.70 L435.02,427.70M436.58,427.70 L437.71,427.70 L438.85,427.70 L439.98,427.70M441.54,427.70 L442.67,427.70 L443.81,427.70 L444.94,427.70M446.50,427.70 L447.63,427.70 L448.77,427.70 L449.90,427.70M451.46,427.70 L452.59,427.70 L453.73,427.70 L454.86,427.70M456.42,427.70 L457.55,427.70 L458.69,427.70 L459.82,427.70M461.38,427.70 L462.51,427.70 L463.65,427.70 L464.78,427.70M466.34,427.70 L467.47,427.70 L468.61,427.70 L469.74,427.70M471.30,427.70 L472.43,427.70 L473.57,427.70 L474.70,427.70M476.26,427.70 L477.39,427.70 L478.53,427.70 L479.66,427.70M481.22,427.70 L482.35,427.70 L483.49,427.70 L484.62,427.70M486.18,427.70 L487.31,427.70 L488.45,427.70 L489.58,427.70M491.14,427.70 L492.27,427.70 L493.41,427.70 L494.54,427.70M496.10,427.70 L497.23,427.70 L498.37,427.70 L499.50,427.70M501.06,427.70 L502.19,427.70 L503.33,427.70 L504.46,427.70M506.02,427.70 L507.15,427.70 L508.29,427.70 L509.42,427.70M510.98,427.70 L512.11,427.70 L513.25,427.70 L514.38,427.70M515.94,427.70 L517.07,427.70 L518.21,427.70 L519.34,427.70M520.90,427.70 L522.03,427.70 L523.17,427.70 L524.30,427.70M525.86,427.70 L526.99,427.70 L528.13,427.70 L529.26,427.70M530.82,427.70 L531.95,427.70 L533.09,427.70 L534.22,427.70M535.78,427.70 L536.91,427.70 L538.05,427.70 L539.18,427.70M540.74,427.70 L541.87,427.70 L543.01,427.70 L544.14,427.70M545.70,427.70 L546.83,427.70 L547.97,427.70 L549.10,427.70M550.66,427.70 L551.79,427.70 L552.93,427.70 L554.06,427.70M555.62,427.70 L556.75,427.70 L557.89,427.70 L559.02,427.70M560.58,427.70 L561.71,427.70 L562.85,427.70 L563.98,427.70M565.54,427.70 L566.67,427.70 L567.81,427.70 L568.94,427.70M570.50,427.70 L571.63,427.70 L572.77,427.70 L573.90,427.70M575.46,427.70 L576.59,427.70 L577.73,427.70 L578.86,427.70M580.42,427.70 L581.55,427.70 L582.69,427.70 L583.82,427.70M585.38,427.70 L586.51,427.70 L587.65,427.70 L588.78,427.70M590.34,427.70 L591.47,427.70 L592.61,427.70 L593.74,427.70M595.30,427.70 L596.43,427.70 L597.57,427.70 L598.70,427.70M600.26,427.70 L601.39,427.70 L602.53,427.70 L603.66,427.70M605.22,427.70 L606.35,427.70 L607.49,427.70 L608.62,427.70M610.18,427.70 L611.31,427.70 L612.45,427.70 L613.58,427.70M615.14,427.70 L616.27,427.70 L617.41,427.70 L618.54,427.70M620.10,427.70 L621.23,427.70 L622.37,427.70 L623.50,427.70M625.06,427.70 L626.19,427.70 L627.33,427.70 L628.46,427.70M630.02,427.70 L631.15,427.70 L632.29,427.70 L633.42,427.70M634.98,427.70 L636.11,427.70 L637.25,427.70 L638.38,427.70M639.94,427.70 L641.07,427.70 L642.21,427.70 L643.34,427.70M644.90,427.70 L646.03,427.70 L647.17,427.70 L648.30,427.70M649.86,427.70 L650.99,427.70 L652.13,427.70 L653.26,427.70M654.82,427.70 L655.95,427.70 L657.09,427.70 L658.22,427.70M659.78,427.70 L660.91,427.70 L662.05,427.70 L663.18,427.70M664.74,427.70 L665.87,427.70 L667.01,427.70 L668.14,427.70" stroke="#1b9393" stroke-width="2" fill="none"/>
<path d="M422.40,448.70 L423.30,448.70 L424.20,448.70 L425.10,448.70M426.66,448.70 L427.79,448.70 L428.93,448.70 L430.06,448.70M431.62,448.70 L432.75,448.70 L433.89,448.70 L435.02,448.70M436.58,448.70 L437.71,448.70 L438.85,448.70 L439.98,448.70M441.54,448.70 L442.67,448.70 L443.81,448.70 L444.94,448.70M446.50,448.70 L447.63,448.70 L448.77,448.70 L449.90,448.70M451.46,448.70 L452.59,448.70 L453.73,448.70 L454.86,448.70M456.42,448.70 L457.55,448.70 L458.69,448.70 L459.82,448.70M461.38,448.70 L462.51,448.70 L463.65,448.70 L464.78,448.70M466.34,448.70 L467.47,448.70 L468.61,448.70 L469.74,448.70M471.30,448.70 L472.43,448.70 L473.57,448.70 L474.70,448.70M476.26,448.70 L477.39,448.70 L478.53,448.70 L479.66,448.70M481.22,448.70 L482.35,448.70 L483.49,448.70 L484.62,448.70M486.18,448.70 L487.31,448.70 L488.45,448.70 L489.58,448.70M491.14,448.70 L492.27,448.70 L493.41,448.70 L494.54,448.70M496.10,448.70 L497.23,448.70 L498.37,448.70 L499.50,448.70M501.06,448.70 L502.19,448.70 L503.33,448.70 L504.46,448.70M506.02,448.70 L507.15,448.70 L508.29,448.70 L509.42,448.70M510.98,448.70 L512.11,448.70 L513.25,448.70 L514.38,448.70M515.94,448.70 L517.07,448.70 L518.21,448.70 L519.34,448.70M520.90,448.70 L522.03,448.70 L523.17,448.70 L524.30,448.70M525.86,448.70 L526.99,448.70 L528.13,448.70 L529.26,448.70M530.82,448.70 L531.95,448.70 L533.09,448.70 L534.22,448.70M535.78,448.70 L536.91,448.70 L538.05,448.70 L539.18,448.70M540.74,448.70 L541.87,448.70 L543.01,448.70 L544.14,448.70M545.70,448.70 L546.83,448.70 L547.97,448.70 L549.10,448.70M550.66,448.70 L551.79,448.70 L552.93,448.70 L554.06,448.70M555.62,448.70 L556.75,448.70 L557.89,448.70 L559.02,448.70M560.58,448.70 L561.71,448.70 L562.85,448.70 L563.98,448.70M565.54,448.70 L566.67,448.70 L567.81,448.70 L568.94,448.70M570.50,448.70 L571.63,448.70 L572.77,448.70 L573.90,448.70M575.46,448.70 L576.59,448.70 L577.73,448.70 L578.86,448.70M580.42,448.70 L581.55,448.70 L582.69,448.70 L583.82,448.70M585.38,448.70 L586.51,448.70 L587.65,448.70 L588.78,448.70M590.34,448.70 L591.47,448.70 L592.61,448.70 L593.74,448.70M595.30,448.70 L596.43,448.70 L597.57,448.70 L598.70,448.70M600.26,448.70 L601.39,448.70 L602.53,448.70 L603.66,448.70M605.22,448.70 L606.35,448.70 L607.49,448.70 L608.62,448.70M610.18,448.70 L611.31,448.70 L612.45,448.70 L613.58,448.70M615.14,448.70 L616.27,448.70 L617.41,448.70 L618.54,448.70M620.10,448.70 L621.23,448.70 L622.37,448.70 L623.50,448.70M625.06,448.70 L626.19,448.70 L627.33,448.70 L628.46,448.70M630.02,448.70 L631.15,448.70 L632.29,448.70 L633.42,448.70M634.98,448.70 L636.11,448.70 L637.25,448.70 L638.38,448.70M639.94,448.70 L641.07,448.70 L642.21,448.70 L643.34,448.70M644.90,448.70 L646.03,448.70 L647.17,448.70 L648.30,448.70M649.86,448.70 L650.99,448.70 L652.13,448.70 L653.26,448.70M654.82,448.70 L655.95,448.70 L657.09,448.70 L658.22,448.70M659.78,448.70 L660.91,448.70 L662.05,448.70 L663.18,448.70M664.74,448.70 L665.87,448.70 L667.01,448.70 L668.14,448.70" stroke="#1b9393" stroke-width="2" fill="none"/>
<path d="M422.40,438.50 L425.18,438.50 L427.96,438.50 L430.74,438.50 L433.52,438.50 L436.30,438.50 L439.08,438.50 L441.86,438.50 L444.64,438.50 L447.42,438.50 L450.20,438.50 L452.98,438.50 L455.76,438.50 L458.54,438.50 L461.32,438.50 L464.10,438.50 L466.88,438.50 L469.66,438.50 L472.44,438.50 L475.22,438.50 L478.00,438.50 L480.78,438.50 L483.56,438.50 L486.34,438.50 L489.12,438.50 L491.90,438.50 L494.68,438.50 L497.46,438.50 L500.24,438.50 L503.02,438.50 L505.80,438.50 L508.58,438.50 L511.36,438.50 L514.14,438.50 L516.92,438.50 L519.70,438.50 L522.48,438.50 L525.26,438.50 L528.04,438.50 L530.82,438.50 L533.60,438.50 L536.38,438.50 L539.16,438.50 L541.94,438.50 L544.72,438.50 L547.50,438.50 L550.28,438.50 L553.06,438.50 L555.84,438.50 L558.62,438.50 L561.40,438.50 L564.18,438.50 L566.96,438.50 L569.74,438.50 L572.52,438.50 L575.30,438.50 L578.08,438.50 L580.86,438.50 L583.64,438.50 L586.42,438.50 L589.20,438.50 L591.98,438.50 L594.76,438.50 L597.54,438.50 L600.32,438.50 L603.10,438.50 L605.88,438.50 L608.66,438.50 L611.44,438.50 L614.22,438.50 L617.00,438.50 L619.78,438.50 L622.56,438.50 L625.34,438.50 L628.12,438.50 L630.90,438.50 L633.68,438.50 L636.46,438.50 L639.24,438.50 L642.02,438.50 L644.80,438.50 L647.58,438.50 L650.36,438.50 L653.14,438.50 L655.92,438.50 L658.70,438.50 L661.48,438.50 L664.26,438.50 L667.04,438.50 L669.82,438.50" stroke="#1a1a1a" stroke-width="1.85" fill="none"/>
<path d="M512.2,438.5 H579.0 M546.2,404.7 V470.5" stroke="#f00000" stroke-width="2.1" stroke-dasharray="2 1.38" fill="none"/>
<circle cx="546.2" cy="427.7" r="2.6" fill="#d80000" stroke="#000" stroke-width="1.9"/>
<circle cx="546.2" cy="432.7" r="2.6" fill="#d80000" stroke="#000" stroke-width="1.9"/>
<circle cx="546.2" cy="447" r="2.6" fill="#d80000" stroke="#000" stroke-width="1.9"/>
<rect x="409.5" y="367" width="273.5" height="270.0" rx="1.2" fill="none" stroke="#141414" stroke-width="2"/>
<line x1="402.1" y1="380.0" x2="409.5" y2="380.0" stroke="#141414" stroke-width="2"/>
<g transform="translate(399.90,381.20) scale(0.92,1)"><text x="-6.67" y="0" class="tk">5</text></g>
<line x1="402.1" y1="440.875" x2="409.5" y2="440.875" stroke="#141414" stroke-width="2"/>
<g transform="translate(399.90,442.07) scale(0.92,1)"><text x="-6.67" y="0" class="tk">4</text></g>
<line x1="402.1" y1="501.75" x2="409.5" y2="501.75" stroke="#141414" stroke-width="2"/>
<g transform="translate(399.90,502.95) scale(0.92,1)"><text x="-6.67" y="0" class="tk">3</text></g>
<line x1="402.1" y1="562.625" x2="409.5" y2="562.625" stroke="#141414" stroke-width="2"/>
<g transform="translate(399.90,563.83) scale(0.92,1)"><text x="-6.67" y="0" class="tk">2</text></g>
<line x1="402.1" y1="623.5" x2="409.5" y2="623.5" stroke="#141414" stroke-width="2"/>
<g transform="translate(399.90,624.70) scale(0.92,1)"><path transform="translate(-6.67,0) scale(0.005859,-0.005859)" d="M763 0H583V1147Q518 1085 412.5 1023T223 930V1104Q374 1175 487 1276T647 1472H763V0Z" class="tk1"/></g>
<line x1="422.9" y1="637.0" x2="422.9" y2="644.0" stroke="#141414" stroke-width="2"/>
<g transform="translate(422.90,655.50) scale(0.92,1)"><text x="-3.34" y="0" class="tk">4</text></g>
<line x1="464.02" y1="637.0" x2="464.02" y2="644.0" stroke="#141414" stroke-width="2"/>
<g transform="translate(464.02,655.50) scale(0.92,1)"><text x="-3.34" y="0" class="tk">5</text></g>
<line x1="505.14" y1="637.0" x2="505.14" y2="644.0" stroke="#141414" stroke-width="2"/>
<g transform="translate(505.14,655.50) scale(0.92,1)"><text x="-3.34" y="0" class="tk">6</text></g>
<line x1="546.26" y1="637.0" x2="546.26" y2="644.0" stroke="#141414" stroke-width="2"/>
<g transform="translate(546.26,655.50) scale(0.92,1)"><text x="-3.34" y="0" class="tk">7</text></g>
<line x1="587.38" y1="637.0" x2="587.38" y2="644.0" stroke="#141414" stroke-width="2"/>
<g transform="translate(587.38,655.50) scale(0.92,1)"><text x="-3.34" y="0" class="tk">8</text></g>
<line x1="628.5" y1="637.0" x2="628.5" y2="644.0" stroke="#141414" stroke-width="2"/>
<g transform="translate(628.50,655.50) scale(0.92,1)"><text x="-3.34" y="0" class="tk">9</text></g>
<line x1="669.6199999999999" y1="637.0" x2="669.6199999999999" y2="644.0" stroke="#141414" stroke-width="2"/>
<g transform="translate(669.62,655.50) scale(0.92,1)"><path transform="translate(-6.67,0) scale(0.005859,-0.005859)" d="M763 0H583V1147Q518 1085 412.5 1023T223 930V1104Q374 1175 487 1276T647 1472H763V0Z" class="tk1"/><text x="0.00" y="0" class="tk">0</text></g>
<text x="546" y="679.0" text-anchor="middle" class="ti" style="font-size:18.1px">D: Incubation time (min)</text>
<text transform="translate(374.2,500.7) rotate(-90) scale(0.94,1)" text-anchor="middle" class="ti" style="font-size:18.3px">F0/F</text>
<text transform="translate(354.8,388.7) scale(0.98,1)" class="lt">D</text>
</svg>
</body></html>
